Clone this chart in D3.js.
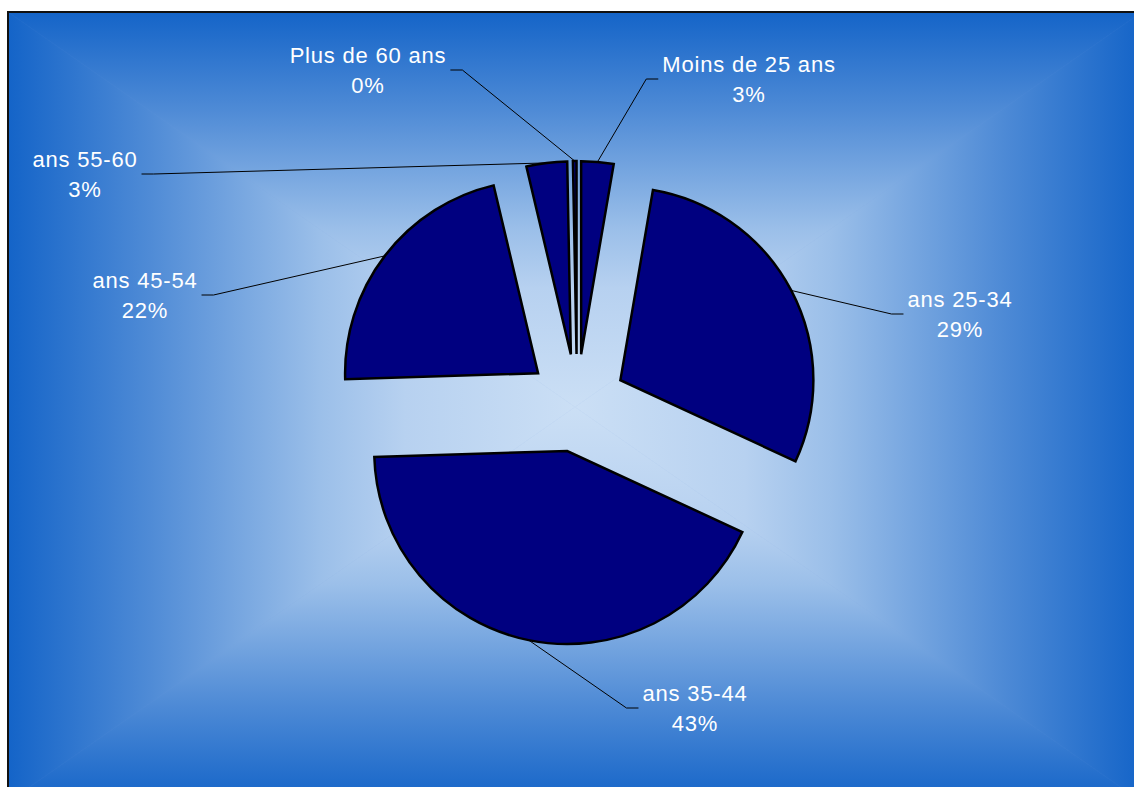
<!DOCTYPE html>
<html>
<head>
<meta charset="utf-8">
<script src="https://cdn.jsdelivr.net/npm/d3@7"></script>
<style>
  body { margin: 0; background: #fff; }
  svg { display: block; }
</style>
</head>
<body>
<div id="chart"></div>
<script>
// tranches d'age, sens horaire depuis midi
const ageGroups = ['Moins de 25 ans', 'ans 25-34', 'ans 35-44', 'ans 45-54', 'ans 55-60', 'Plus de 60 ans']
const shares = [2.7, 29.2, 42.6, 21.8, 3.4, 0.3]
// centre du bloc de texte (x) et ligne de base de la 1re ligne (y)
const labelPos = [[749, 72], [960, 307], [695, 701], [145, 288], [85, 167], [368, 63]]

const W = 1134
const H = 787
const frame = {x: 8, y: 12, w: 1134, h: 790}
const pieC = {x: 577, y: 403}
const radius = 193
const explode = 49
const edgeColor = '#1464c8'
const centerColor = '#cbdff5'
// profil du degrade (position bord->centre, part de la couleur centrale)
const gradStops = [[0, 0], [0.25, 0.32], [0.55, 0.74], [0.7, 0.89], [1, 1]]

const svg = d3.select('#chart')
  .append('svg')
  .attr('width', W)
  .attr('height', H)

// fond : degrade rectangulaire depuis le centre (4 triangles)
const defs = svg.append('defs')
const mix = d3.interpolateRgb(edgeColor, centerColor)
const gx = frame.x + frame.w / 2
const gy = frame.y + frame.h / 2
const x0 = frame.x
const x1 = frame.x + frame.w
const y0 = frame.y
const y1 = frame.y + frame.h
const tris = [
  {id: 'gTop', pts: [[x0, y0], [x1, y0], [gx, gy]], from: [gx, y0]},
  {id: 'gBottom', pts: [[x0, y1], [x1, y1], [gx, gy]], from: [gx, y1]},
  {id: 'gLeft', pts: [[x0, y0], [x0, y1], [gx, gy]], from: [x0, gy]},
  {id: 'gRight', pts: [[x1, y0], [x1, y1], [gx, gy]], from: [x1, gy]}
]
tris.forEach(t => {
  const lg = defs.append('linearGradient')
    .attr('id', t.id)
    .attr('gradientUnits', 'userSpaceOnUse')
    .attr('x1', t.from[0]).attr('y1', t.from[1])
    .attr('x2', gx).attr('y2', gy)
  gradStops.forEach(s => {
    lg.append('stop').attr('offset', s[0]).attr('stop-color', mix(s[1]))
  })
})

svg.append('rect')
  .attr('x', frame.x).attr('y', frame.y)
  .attr('width', frame.w).attr('height', frame.h)
  .attr('fill', '#6f97dc')

svg.selectAll('.bgTri')
  .data(tris)
  .enter()
  .append('path')
  .attr('class', 'bgTri')
  .attr('d', t => 'M' + t.pts.map(p => p.join(',')).join('L') + 'Z')
  .attr('fill', t => 'url(#' + t.id + ')')
  .attr('stroke', t => 'url(#' + t.id + ')')
  .attr('stroke-width', 0.6)

svg.append('rect')
  .attr('x', frame.x).attr('y', frame.y)
  .attr('width', frame.w).attr('height', frame.h)
  .attr('fill', 'none')
  .attr('stroke', '#111')
  .attr('stroke-width', 2)

// camembert eclate
const pie = d3.pie().sort(null).value(d => d)
const arcs = pie(shares)
const arc = d3.arc().innerRadius(0).outerRadius(radius)
const mid = d => (d.startAngle + d.endAngle) / 2
const offset = d => [pieC.x + explode * Math.sin(mid(d)), pieC.y - explode * Math.cos(mid(d))]

// etiquettes
const fmt = v => Math.round(v) + '%'
const labels = svg.selectAll('.label')
  .data(arcs)
  .enter()
  .append('text')
  .attr('class', 'label')
  .attr('text-anchor', 'middle')
  .style('font-family', '"Liberation Sans", Arial, sans-serif')
  .style('font-size', '22px')
  .style('letter-spacing', '0.8px')
  .attr('fill', '#fff')

labels.append('tspan')
  .attr('x', (d, i) => labelPos[i][0])
  .attr('y', (d, i) => labelPos[i][1])
  .text((d, i) => ageGroups[i])
labels.append('tspan')
  .attr('x', (d, i) => labelPos[i][0])
  .attr('y', (d, i) => labelPos[i][1] + 29.5)
  .text(d => fmt(d.value))

// lignes de rappel
const leaders = []
labels.each(function (d, i) {
  const bb = this.getBBox()
  const o = offset(d)
  const start = [o[0] + radius * Math.sin(mid(d)), o[1] - radius * Math.cos(mid(d))]
  const ly = labelPos[i][1] + 7
  const right = labelPos[i][0] > pieC.x
  const stubEnd = right ? bb.x - 4 : bb.x + bb.width + 4
  const elbow = right ? stubEnd - 12 : stubEnd + 12
  leaders.push([start, [elbow, ly], [stubEnd, ly]])
})

svg.selectAll('.leader')
  .data(leaders)
  .enter()
  .insert('path', '.label')
  .attr('class', 'leader')
  .attr('d', d3.line())
  .attr('fill', 'none')
  .attr('stroke', '#000')
  .attr('stroke-width', 1)

svg.selectAll('.slice')
  .data(arcs)
  .enter()
  .insert('path', '.label')
  .attr('class', 'slice')
  .attr('transform', d => 'translate(' + offset(d).join(',') + ')')
  .attr('d', arc)
  .attr('fill', '#000080')
  .attr('stroke', '#000')
  .attr('stroke-width', 2.5)
  .attr('stroke-linejoin', 'miter')
</script>
</body>
</html>
